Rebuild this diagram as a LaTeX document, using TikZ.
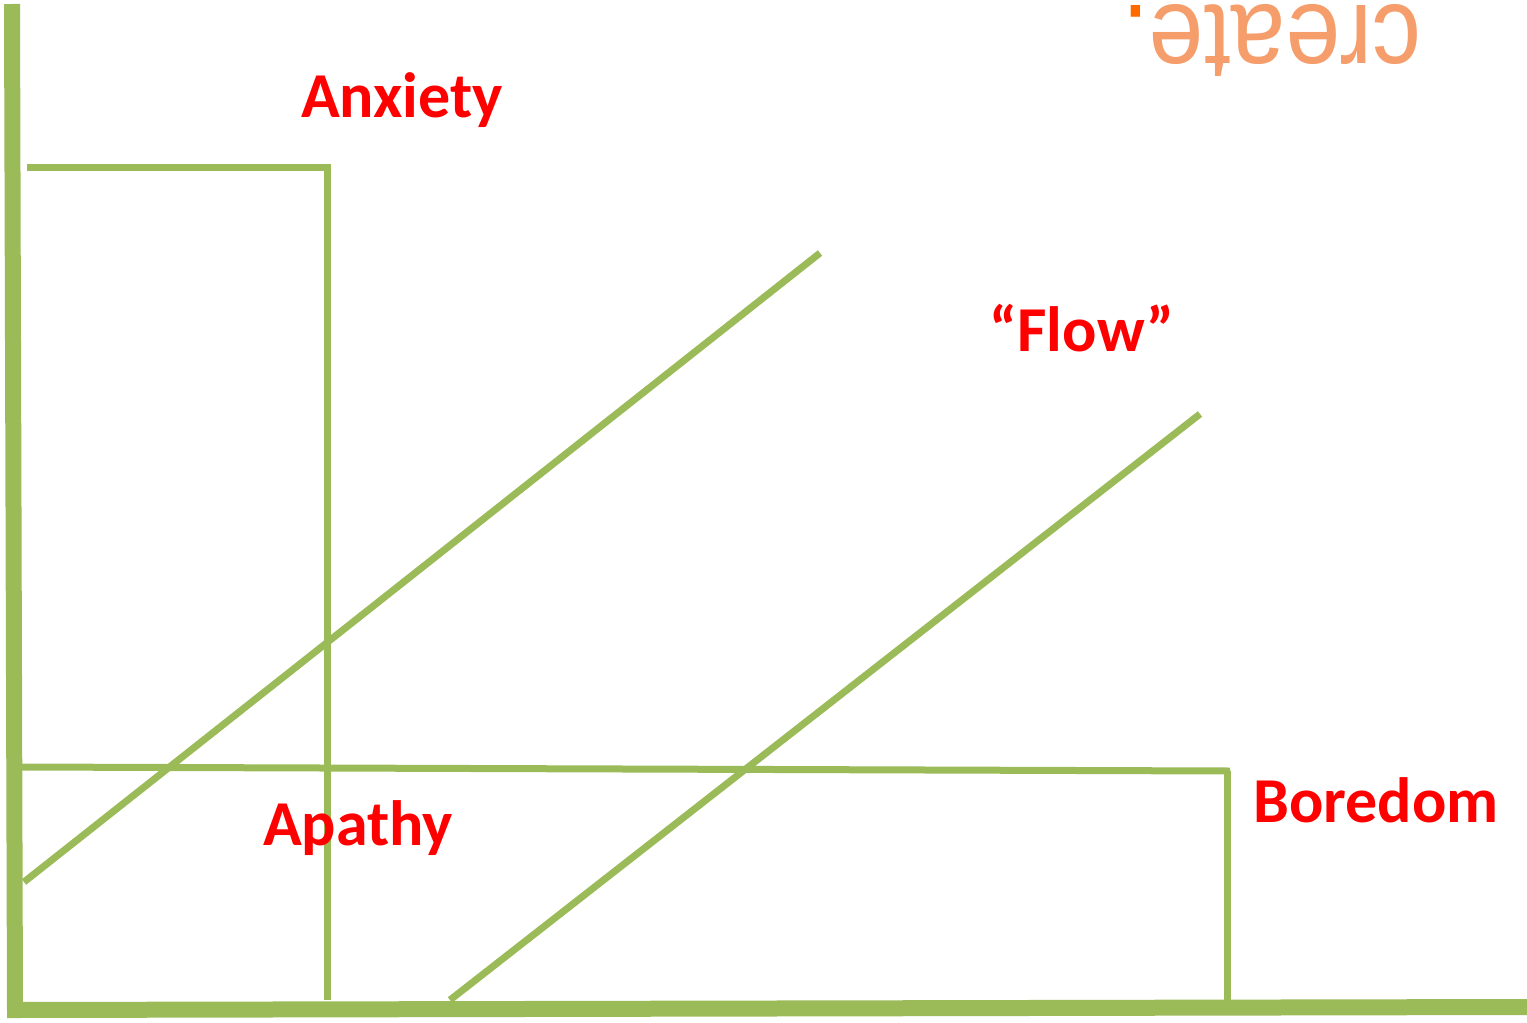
\documentclass[tikz,border=0pt]{standalone}
\usepackage{fontspec}
\setmainfont{Carlito}
\newfontfamily\logofont{Liberation Sans}
\definecolor{Green}{HTML}{9BBB59}
\definecolor{Red}{HTML}{FF0000}
\definecolor{Salmon}{HTML}{F59D6B}
\definecolor{Orange}{HTML}{FF6A00}
\usepackage{tikz}
\tikzset{
  every picture/.style={font={\bfseries\fontsize{32}{36}\selectfont}},
  axis/.style={Green, line width=8pt},
  zone/.style={Green, line width=3.5pt},
  label/.style={Red}}

\begin{document}
\begin{tikzpicture}[x=0.5pt, y=-0.5pt]
    \useasboundingbox (0,0) rectangle (1527,1023);

    % axes
    \draw[axis] (12,4) -- (15,1010) -- (1527,1007);

    % zones
    \draw[zone] (27,167) -- (327,167) -- (327,1000);
    \draw[zone] (20,767) -- (1230,771);
    \draw[zone] (1227,771) -- (1227,1000);
    \draw[zone] (24,882) -- (820,253);
    \draw[zone] (450,1000) -- (1200,414);

    \node[label] (anxiety) at (402,100) {Anxiety};
    \node[label] (flow) at (1082,328) {“Flow”};
    \node[label] (apathy) at (358,828) {Apathy};
    \node[label] (boredom) at (1376,800) {Boredom};

    \node[rotate=180, yscale=1.12, anchor=base, inner sep=0pt, Salmon,
      font={\logofont\fontsize{49}{50}\selectfont}] (logo) at (1272,5)
      {create\textcolor{Orange}{.}};
  \end{tikzpicture}
\end{document}
